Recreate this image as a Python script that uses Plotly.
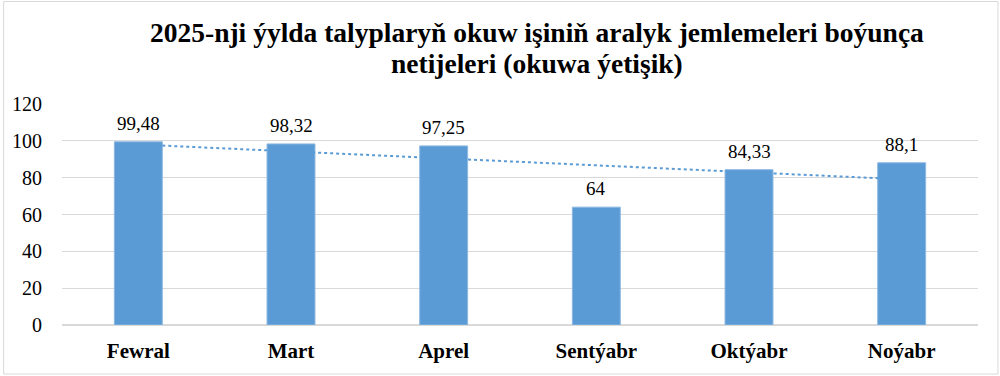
import numpy as np
import plotly.graph_objects as go

categories = ["Fewral", "Mart", "Aprel", "Sentýabr", "Oktýabr", "Noýabr"]
values = [99.48, 98.32, 97.25, 64, 84.33, 88.1]
value_labels = ["99,48", "98,32", "97,25", "64", "84,33", "88,1"]
y_ticks = [0, 20, 40, 60, 80, 100, 120]
title_lines = ["2025-nji ýylda talyplaryň okuw işiniň aralyk jemlemeleri boýunça",
               "netijeleri (okuwa ýetişik)"]

# linear trendline (least squares) from the data
xi = np.arange(1, len(values) + 1)
slope, intercept = np.polyfit(xi, values, 1)
trend = slope * xi + intercept

BLUE = "#5B9BD5"
SERIF = "Liberation Serif"

fig = go.Figure()
fig.add_trace(go.Scatter(
    x=categories, y=trend, mode="lines",
    line=dict(color=BLUE, width=2, dash="dot"),
    hoverinfo="skip", showlegend=False,
))
fig.add_trace(go.Bar(
    x=categories, y=values, marker=dict(color=BLUE, line=dict(color="#8DB8E2", width=1)),
    showlegend=False,
))

for c, v, t in zip(categories, values, value_labels):
    fig.add_annotation(x=c, y=v, text=t, showarrow=False, yanchor="bottom",
                       yshift=6, font=dict(family=SERIF, size=19, color="#000000"))

L, R, T, B = 60, 22, 104, 51
W, H = 1000, 376
pw, ph = W - L - R, H - T - B
def px(x):
    return (x - L) / pw
def py(y):
    return (H - B - y) / ph

for line, yc in zip(title_lines, [32, 64]):
    fig.add_annotation(xref="paper", yref="paper", x=px(536), y=py(yc),
                       xanchor="center", yanchor="middle", showarrow=False,
                       text="<b>" + line + "</b>",
                       font=dict(family=SERIF, size=27.5, color="#000000"))

fig.add_shape(type="rect", xref="paper", yref="paper",
              x0=px(1.5), x1=px(998), y0=py(374), y1=py(1.5),
              line=dict(color="#D9D9D9", width=1), fillcolor="rgba(0,0,0,0)", layer="below")

fig.update_layout(
    width=W, height=H,
    margin=dict(l=L, r=R, t=T, b=B),
    paper_bgcolor="white", plot_bgcolor="white",
    bargap=0.686,
    xaxis=dict(
        showgrid=False, showline=False, ticks="",
        tickfont=dict(family=SERIF, size=21, color="#000000"),
        tickprefix="<b>", ticksuffix="</b>",
        ticklabelstandoff=11,
    ),
    yaxis=dict(
        range=[0, 120], tickvals=y_ticks, showgrid=True, gridcolor="#D9D9D9", gridwidth=1,
        zeroline=True, zerolinecolor="#D9D9D9", showline=False, ticks="",
        tickfont=dict(family=SERIF, size=20, color="#000000"),
        ticklabelstandoff=19,
    ),
)

fig.write_html("out.html")
